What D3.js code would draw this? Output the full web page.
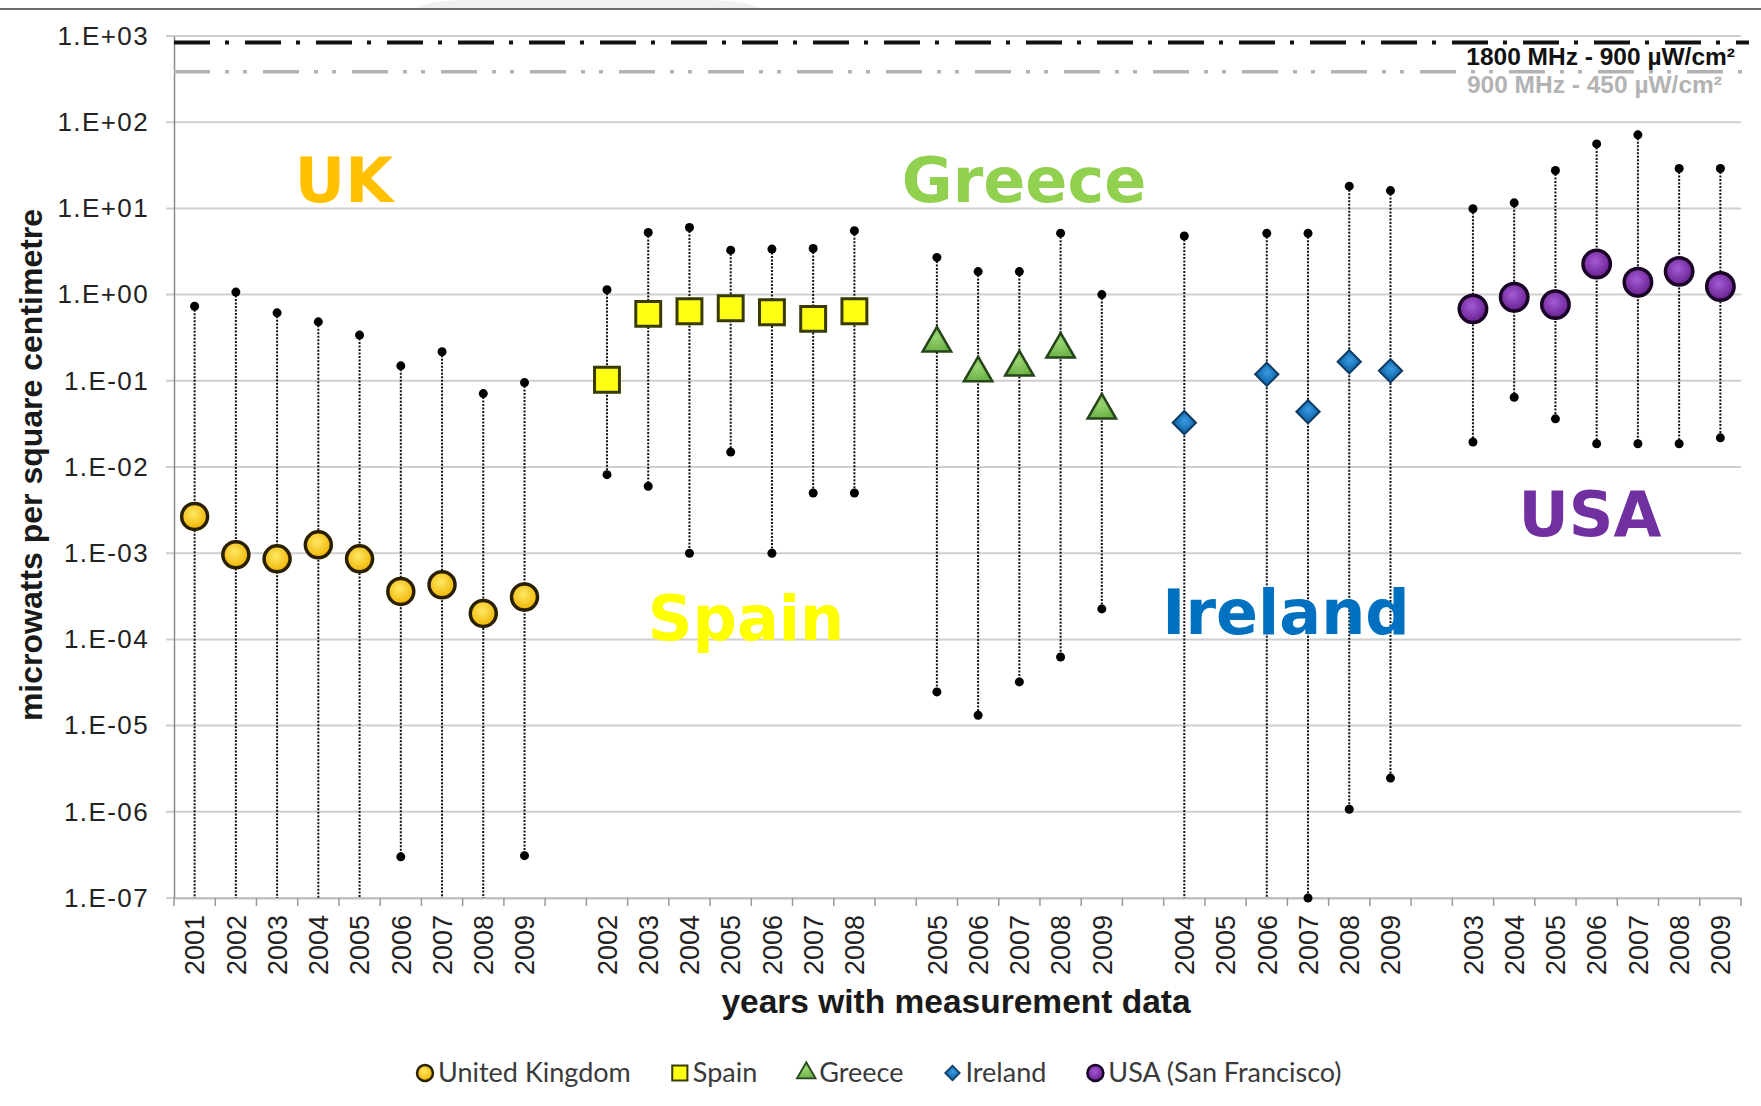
<!DOCTYPE html>
<html>
<head>
<meta charset="utf-8">
<script src="https://cdn.jsdelivr.net/npm/d3@7/dist/d3.min.js"></script>
<style>
  body { margin: 0; background: #fff; }
  svg { display: block; }
</style>
</head>
<body>
<script>
const w = 1761;
const h = 1106;

// Series data (µW/cm²): median marker, max and min of each year. null = off the chart / no data
const countries = ["United Kingdom", "Spain", "Greece", "Ireland", "USA (San Francisco)"];
const regionNames = ["UK", "Spain", "Greece", "Ireland", "USA"];

const ukYears = [2001, 2002, 2003, 2004, 2005, 2006, 2007, 2008, 2009];
const ukMedian = [2.67e-3, 9.6e-4, 8.6e-4, 1.25e-3, 8.6e-4, 3.6e-4, 4.3e-4, 2.0e-4, 3.1e-4];
const ukMax = [0.733, 1.07, 0.614, 0.483, 0.339, 0.149, 0.217, 0.0711, 0.0954];
const ukMin = [null, null, null, null, null, 3.0e-7, null, null, 3.1e-7];

const spainYears = [2002, 2003, 2004, 2005, 2006, 2007, 2008];
const spainMedian = [0.103, 0.597, 0.642, 0.695, 0.625, 0.523, 0.642];
const spainMax = [1.14, 5.25, 6.0, 3.28, 3.37, 3.43, 5.5];
const spainMin = [8.15e-3, 5.98e-3, 1.0e-3, 0.0149, 1.0e-3, 5.0e-3, 5.0e-3];

const greeceYears = [2005, 2006, 2007, 2008, 2009];
const greeceMedian = [0.272, 0.123, 0.143, 0.232, 0.0454];
const greeceMax = [2.7, 1.85, 1.85, 5.16, 1.0];
const greeceMin = [2.46e-5, 1.32e-5, 3.21e-5, 6.25e-5, 2.26e-4];

const irelandYears = [2004, 2005, 2006, 2007, 2008, 2009];
const irelandMedian = [0.0327, null, 0.119, 0.0438, 0.166, 0.131];
const irelandMax = [4.79, null, 5.14, 5.14, 18.1, 16.1];
const irelandMin = [null, null, null, 1.0e-7, 1.07e-6, 2.46e-6];

const usaYears = [2003, 2004, 2005, 2006, 2007, 2008, 2009];
const usaMedian = [0.683, 0.931, 0.766, 2.26, 1.39, 1.86, 1.24];
const usaMax = [9.9, 11.6, 27.5, 56, 71.4, 29.0, 29.0];
const usaMin = [0.0195, 0.0644, 0.0362, 0.0186, 0.0186, 0.0186, 0.0218];

// Exposure limit lines as drawn
const limitValues = [840, 385];
const limitLabels = ["1800 MHz - 900 µW/cm²", "900 MHz - 450 µW/cm²"];

const yTickValues = [1e3, 1e2, 1e1, 1e0, 1e-1, 1e-2, 1e-3, 1e-4, 1e-5, 1e-6, 1e-7];

// Build slot list (a blank slot between countries)
const groups = [
  { years: ukYears, med: ukMedian, max: ukMax, min: ukMin },
  { years: spainYears, med: spainMedian, max: spainMax, min: spainMin },
  { years: greeceYears, med: greeceMedian, max: greeceMax, min: greeceMin },
  { years: irelandYears, med: irelandMedian, max: irelandMax, min: irelandMin },
  { years: usaYears, med: usaMedian, max: usaMax, min: usaMin },
];
const slots = [];
const points = [];
groups.forEach(function (g, gi) {
  if (gi > 0) slots.push({ key: "gap" + gi, label: "" });
  g.years.forEach(function (yr, i) {
    const key = gi + "-" + yr;
    slots.push({ key: key, label: String(yr) });
    points.push({ key: key, group: gi, med: g.med[i], max: g.max[i], min: g.min[i] });
  });
});

// Plot frame
const x0 = 174, x1 = 1741, yTop = 36, yBot = 898;

const x = d3.scaleBand().domain(slots.map(d => d.key)).range([x0, x1]).padding(0);
const y = d3.scaleLog().domain([1e-7, 1e3]).range([yBot, yTop]);
const cx = k => x(k) + x.bandwidth() / 2;

const svg = d3.select("body").append("svg").attr("width", w).attr("height", h);

const defs = svg.append("defs");
function radial(id, c0, c1) {
  const g = defs.append("radialGradient").attr("id", id).attr("cx", "45%").attr("cy", "40%").attr("r", "60%");
  g.append("stop").attr("offset", "0%").attr("stop-color", c0);
  g.append("stop").attr("offset", "100%").attr("stop-color", c1);
}
radial("gUK", "#ffe866", "#efb400");
radial("gUSA", "#a55ad4", "#661f8e");
radial("gIRL", "#3a9be3", "#136aad");
radial("gGRE", "#9bd474", "#6cb346");

// top border of the slide, with the faint shape above it
svg.append("path").attr("d", "M416,8 Q430,0 470,0 L700,0 Q745,0 760,8 Z").attr("fill", "#f1f0ee");
svg.append("line").attr("x1", 0).attr("x2", w).attr("y1", 9).attr("y2", 9)
  .attr("stroke", "#6a6a6a").attr("stroke-width", 2);

// gridlines
svg.append("g").selectAll("line").data(yTickValues).enter().append("line")
  .attr("x1", x0 - 8).attr("x2", x1)
  .attr("y1", d => y(d)).attr("y2", d => y(d))
  .attr("stroke", "#cfcfcf").attr("stroke-width", 2);

// y axis
const fmt = function (d) {
  const e = Math.round(Math.log10(d));
  return "1.E" + (e >= 0 ? "+" : "-") + String(Math.abs(e)).padStart(2, "0");
};
const yAxis = svg.append("g").attr("transform", `translate(${x0},0)`)
  .call(d3.axisLeft(y).tickValues(yTickValues).tickFormat(fmt).tickSize(0).tickPadding(25));
yAxis.select(".domain").attr("stroke", "#8a8a8a").attr("stroke-width", 1.5);
yAxis.selectAll("text").style("font-family", "'Liberation Sans', Arial, sans-serif")
  .style("font-size", "26px").style("letter-spacing", "1.4px").attr("fill", "#222");

// x axis
const labelOf = {};
slots.forEach(d => labelOf[d.key] = d.label);
const xAxis = svg.append("g").attr("transform", `translate(0,${yBot})`)
  .call(d3.axisBottom(x).tickFormat(k => labelOf[k]).tickSize(0).tickPadding(0));
xAxis.select(".domain").attr("stroke", "#bdbdbd").attr("stroke-width", 2);
xAxis.selectAll("text")
  .attr("transform", "rotate(-90)")
  .attr("x", -17).attr("y", 0).attr("dy", "0.36em")
  .style("text-anchor", "end")
  .style("font-family", "'Liberation Sans', Arial, sans-serif")
  .style("font-size", "27px").attr("fill", "#222");
// category boundary ticks
svg.append("g").selectAll("line").data(d3.range(slots.length + 1)).enter().append("line")
  .attr("x1", i => x0 + i * x.step()).attr("x2", i => x0 + i * x.step())
  .attr("y1", yBot).attr("y2", yBot + 8)
  .attr("stroke", "#9a9a9a").attr("stroke-width", 1.5);

// limit lines
const limitStyles = [
  { stroke: "#111", width: 4, dash: "36,15,4,16" },
  { stroke: "#b3b3b3", width: 3.5, dash: "36,15,4,14,4,16" },
];
svg.append("g").selectAll("line").data(limitValues).enter().append("line")
  .attr("x1", x0).attr("x2", x1 + 8)
  .attr("y1", d => y(d)).attr("y2", d => y(d))
  .attr("stroke", (d, i) => limitStyles[i].stroke)
  .attr("stroke-width", (d, i) => limitStyles[i].width)
  .attr("stroke-dasharray", (d, i) => limitStyles[i].dash);

const limitText = [
  { x: 1735, y: 65, fill: "#111" },
  { x: 1722, y: 93, fill: "#b3b3b3" },
];
svg.append("g").selectAll("text").data(limitLabels).enter().append("text")
  .attr("x", (d, i) => limitText[i].x).attr("y", (d, i) => limitText[i].y)
  .attr("text-anchor", "end")
  .style("font-family", "'Liberation Sans', Arial, sans-serif")
  .style("font-size", "24.5px").style("font-weight", "bold")
  .attr("fill", (d, i) => limitText[i].fill)
  .text(d => d);

// whiskers
const valid = points.filter(d => d.med != null);
svg.append("g").selectAll("line").data(valid).enter().append("line")
  .attr("x1", d => cx(d.key)).attr("x2", d => cx(d.key))
  .attr("y1", d => y(d.max))
  .attr("y2", d => d.min == null ? yBot : y(d.min))
  .attr("stroke", "#111").attr("stroke-width", 2).attr("stroke-dasharray", "2,1.5");

// max / min dots
const ends = [];
valid.forEach(function (d) {
  ends.push({ key: d.key, v: d.max });
  if (d.min != null) ends.push({ key: d.key, v: d.min });
});
svg.append("g").selectAll("circle").data(ends).enter().append("circle")
  .attr("cx", d => cx(d.key)).attr("cy", d => y(d.v)).attr("r", 4.5)
  .attr("fill", "#000");

// markers
const markerStyle = [
  { type: d3.symbolCircle, size: 530, fill: "url(#gUK)", stroke: "#2a2000", sw: 3.5, rot: 0 },
  { type: d3.symbolSquare, size: 620, fill: "#ffff14", stroke: "#3a3a05", sw: 3, rot: 0 },
  { type: d3.symbolTriangle, size: 350, fill: "url(#gGRE)", stroke: "#26451a", sw: 2.5, rot: 0 },
  { type: d3.symbolSquare, size: 270, fill: "url(#gIRL)", stroke: "#0d3a60", sw: 2, rot: 45 },
  { type: d3.symbolCircle, size: 590, fill: "url(#gUSA)", stroke: "#1a0526", sw: 3.5, rot: 0 },
];
svg.append("g").selectAll("path").data(valid).enter().append("path")
  .attr("d", d => d3.symbol().type(markerStyle[d.group].type).size(markerStyle[d.group].size)())
  .attr("transform", d => `translate(${cx(d.key)},${y(d.med)}) rotate(${markerStyle[d.group].rot})`)
  .attr("fill", d => markerStyle[d.group].fill)
  .attr("stroke", d => markerStyle[d.group].stroke)
  .attr("stroke-width", d => markerStyle[d.group].sw);

// big country labels
const regionColors = ["#ffc000", "#ffff00", "#92d050", "#0070c0", "#7030a0"];
const regionPos = [[344, 202], [746, 640], [1024, 202], [1286, 634], [1590, 536]];
svg.append("g").selectAll("text").data(regionNames).enter().append("text")
  .attr("x", (d, i) => regionPos[i][0]).attr("y", (d, i) => regionPos[i][1])
  .attr("text-anchor", "middle")
  .style("font-family", "'DejaVu Sans', Verdana, sans-serif")
  .style("font-size", "62px").style("font-weight", "bold")
  .attr("fill", (d, i) => regionColors[i])
  .text(d => d);

// axis titles
svg.append("text")
  .attr("x", 956).attr("y", 1013).attr("text-anchor", "middle")
  .style("font-family", "'Liberation Sans', Arial, sans-serif")
  .style("font-size", "33.5px").style("font-weight", "bold").attr("fill", "#1a1a1a")
  .text("years with measurement data");
svg.append("text")
  .attr("transform", "translate(42,465) rotate(-90)").attr("text-anchor", "middle")
  .style("font-family", "'Liberation Sans', Arial, sans-serif")
  .style("font-size", "32px").style("font-weight", "bold").attr("fill", "#1a1a1a")
  .text("microwatts per square centimetre");

// legend
const legendMarker = [
  { size: 200, sw: 2.5 }, { size: 230, sw: 2 }, { size: 150, sw: 1.8 }, { size: 110, sw: 1.5 }, { size: 200, sw: 2.5 },
];
const legend = svg.append("g");
let lx = 417;
countries.forEach(function (name, i) {
  const ms = markerStyle[i];
  legend.append("path")
    .attr("d", d3.symbol().type(ms.type).size(legendMarker[i].size)())
    .attr("transform", `translate(${lx + 8},1073) rotate(${ms.rot})`)
    .attr("fill", ms.fill).attr("stroke", ms.stroke).attr("stroke-width", legendMarker[i].sw);
  const t = legend.append("text")
    .attr("x", lx + 21).attr("y", 1082)
    .style("font-family", "Lato, 'Open Sans', sans-serif")
    .style("font-size", "27px").attr("fill", "#3a3a3a")
    .text(name);
  lx += 21 + t.node().getComputedTextLength() + 41;
});
</script>
</body>
</html>
